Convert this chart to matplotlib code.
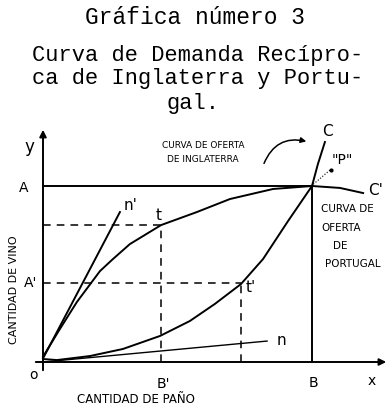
import matplotlib
matplotlib.use("Agg")
import matplotlib.pyplot as plt

# --- datos de la gráfica (unidades: B = 10 en paño, A = 10 en vino) ---
# curva de oferta de Inglaterra (0 -> t -> P) y su prolongación hacia C'
ing_x = [0.0, 0.63, 1.26, 2.12, 2.60, 3.23, 4.39, 5.72, 6.95, 8.55, 10.0]
ing_y = [0.3, 1.88, 3.41, 5.17, 5.85, 6.70, 7.78, 8.52, 9.26, 9.83, 10.0]
ing_ext_x = [10.0, 11.04, 11.90]
ing_ext_y = [10.0, 9.89, 9.60]

# curva de oferta de Portugal (0 -> t' -> P) y su prolongación hacia C
por_x = [0.0, 0.52, 1.75, 2.97, 4.35, 5.46, 6.39, 7.36, 8.18, 9.11, 10.0]
por_y = [0.17, 0.11, 0.34, 0.74, 1.48, 2.33, 3.30, 4.43, 5.85, 8.01, 10.0]
por_ext_x = [10.0, 10.22, 10.48]
por_ext_y = [10.0, 11.25, 12.5]

# rectas de relación de intercambio n' y n
n1_x, n1_y = [0.0, 2.86], [0.2, 8.52]
n_x, n_y = [0.0, 8.33], [0.0, 1.19]

# puntos notables
A, A1 = 10.0, 4.49       # A y A'
B, B1 = 10.0, 4.39       # B y B'
t = (4.39, 7.78)
t1 = (7.36, 4.49)

# escala de la figura: px -> unidades
sx, sy = 26.9, 17.6
ox, oy = 43, 363


def px(x):
    return (x - ox) / sx


def py(y):
    return (oy - y) / sy


fig = plt.figure(figsize=(3.9, 4.1), dpi=100)
ax = fig.add_axes([0, 0, 1, 1])
ax.set_xlim(px(0), px(390))
ax.set_ylim(py(410), py(0))
ax.axis("off")

lw = 1.4
k = "black"

# ejes
ax.annotate("", xy=(0, py(128)), xytext=(0, py(374)),
            arrowprops=dict(arrowstyle="-|>", color=k, lw=lw, mutation_scale=10))
ax.annotate("", xy=(px(389), 0), xytext=(px(33), 0),
            arrowprops=dict(arrowstyle="-|>", color=k, lw=lw, mutation_scale=10))

# curvas
ax.plot(ing_x, ing_y, color=k, lw=lw)
ax.plot(ing_ext_x, ing_ext_y, color=k, lw=lw)
ax.plot(por_x, por_y, color=k, lw=lw)
ax.plot(por_ext_x, por_ext_y, color=k, lw=lw)
ax.plot(n1_x, n1_y, color=k, lw=lw)
ax.plot(n_x, n_y, color=k, lw=1.0)

# A - P horizontal y B - P vertical
ax.plot([0, B], [A, A], color=k, lw=lw)
ax.plot([B, B], [0, A], color=k, lw=lw)

# líneas de trazos hacia t y t'
ds = dict(color=k, lw=1.1, ls=(0, (5, 4)))
ax.plot([0, t[0]], [t[1], t[1]], **ds)
ax.plot([t[0], t[0]], [0, t[1]], **ds)
ax.plot([0, t1[0]], [A1, A1], **ds)
ax.plot([t1[0], t1[0]], [0, t1[1]], **ds)

# títulos a máquina
mono = "Liberation Mono"
fig.text(0.5, 1 - 18 / 410, "Gráfica número 3", family=mono, fontsize=16.5,
         ha="center", va="center")
fig.text(32 / 390, 1 - 55 / 410, "Curva de Demanda Recípro-", family=mono,
         fontsize=15.8, ha="left", va="center")
fig.text(32 / 390, 1 - 79 / 410, "ca de Inglaterra y Portu-", family=mono,
         fontsize=15.8, ha="left", va="center")
fig.text(166 / 390, 1 - 103 / 410, "gal.", family=mono, fontsize=15.8,
         ha="left", va="center")

# rótulos manuscritos
hw = dict(color=k, ha="center", va="center")
ax.text(px(29), py(147), "y", fontsize=12, **hw)
ax.text(px(24), py(188), "A", fontsize=10, **hw)
ax.text(px(31), py(283), "A'", fontsize=10, **hw)
ax.text(px(33), py(375), "o", fontsize=10, **hw)
ax.text(px(163), py(384), "B'", fontsize=10, **hw)
ax.text(px(313), py(383), "B", fontsize=10, **hw)
ax.text(px(372), py(381), "x", fontsize=10, **hw)
ax.text(px(131), py(206), "n'", fontsize=11, **hw)
ax.text(px(159), py(216), "t", fontsize=11, **hw)
ax.text(px(251), py(288), "t'", fontsize=11, **hw)
ax.text(px(281), py(341), "n", fontsize=11, **hw)
ax.text(px(327), py(132), "C", fontsize=11, **hw)
ax.text(px(376), py(191), "C'", fontsize=11, **hw)
ax.text(px(342), py(160), "\"P\"", fontsize=10, **hw)

ax.text(px(136), py(400), "CANTIDAD DE PAÑO", fontsize=8.5, **hw)
ax.text(px(14), py(290), "CANTIDAD DE VINO", fontsize=8, rotation=90, **hw)
ax.text(px(203), py(145), "CURVA DE OFERTA", fontsize=6.5, **hw)
ax.text(px(203), py(160), "DE INGLATERRA", fontsize=6.5, **hw)
ax.text(px(347), py(209), "CURVA DE", fontsize=7.5, **hw)
ax.text(px(341), py(228), "OFERTA", fontsize=7.5, **hw)
ax.text(px(340), py(246), "DE", fontsize=7.5, **hw)
ax.text(px(353), py(264), "PORTUGAL", fontsize=7.5, **hw)

# flecha curva y guía de "P"
ax.annotate("", xy=(px(309), py(143)), xytext=(px(263), py(167)),
            arrowprops=dict(arrowstyle="-|>", color=k, lw=1.1, mutation_scale=8,
                            connectionstyle="arc3,rad=-0.45"))
ax.plot([B + 0.05, px(330)], [A + 0.1, py(171)], color=k, lw=0.8, ls=":")
ax.plot([px(331)], [py(171)], "o", color=k, ms=2)

fig.savefig("out.png", dpi=100)
